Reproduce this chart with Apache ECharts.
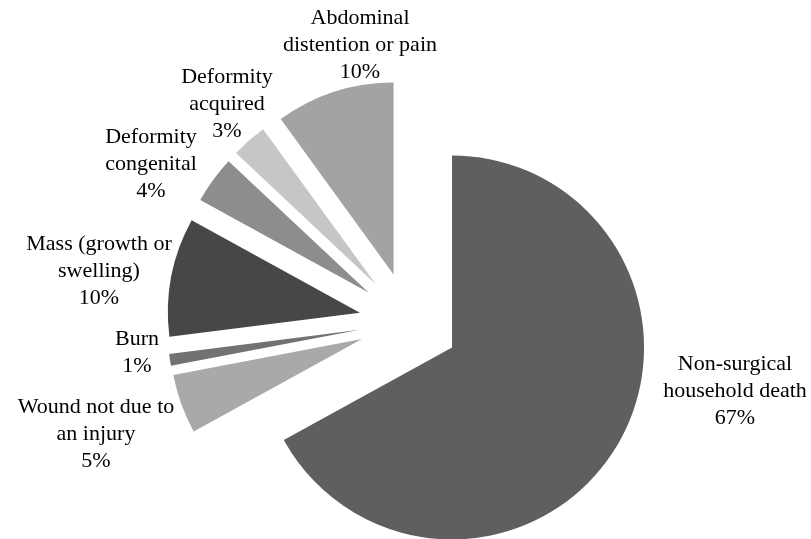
<!DOCTYPE html>
<html>
<head>
<meta charset="utf-8">
<script src="https://cdn.jsdelivr.net/npm/echarts@6/dist/echarts.min.js"></script>
<style>
html,body{margin:0;padding:0;background:#fff;}
#chart{width:811px;height:539px;}
</style>
</head>
<body>
<div id="chart"></div>
<script>
const categories = [
  'Non-surgical\nhousehold death',
  'Wound not due to\nan injury',
  'Burn',
  'Mass (growth or\nswelling)',
  'Deformity\ncongenital',
  'Deformity\nacquired',
  'Abdominal\ndistention or pain'
];
const values = [67, 5, 1, 10, 4, 3, 10];

// layout / style (kept separate from the data)
const colors = ['#5f5f5f', '#a9a9a9', '#727272', '#474747', '#8d8d8d', '#c6c6c6', '#a3a3a3'];
const labelCenters = [[735, 391], [96, 434], [137, 353], [99, 271], [151, 164], [227, 104], [360, 45]];

const chart = echarts.init(document.getElementById('chart'));
const data = categories.map((name, i) => ({
  name: name,
  value: values[i],
  selected: true,
  itemStyle: { color: colors[i] },
  select: { itemStyle: { color: colors[i] } }
}));

const labels = categories.map((name, i) => ({
  type: 'text',
  x: labelCenters[i][0],
  y: labelCenters[i][1],
  silent: true,
  style: {
    text: name + '\n' + values[i] + '%',
    x: 0, y: 0,
    align: 'center',
    verticalAlign: 'middle',
    fontFamily: 'Liberation Serif',
    fontSize: 22,
    lineHeight: 27,
    fill: '#000'
  }
}));

chart.setOption({
  animation: false,
  backgroundColor: '#fff',
  graphic: labels,
  series: [{
    type: 'pie',
    center: [409, 322],
    radius: 192,
    startAngle: 90,
    clockwise: true,
    selectedMode: 'multiple',
    selectedOffset: 50,
    label: { show: false },
    labelLine: { show: false },
    emphasis: { disabled: true },
    data: data
  }]
});
</script>
</body>
</html>
